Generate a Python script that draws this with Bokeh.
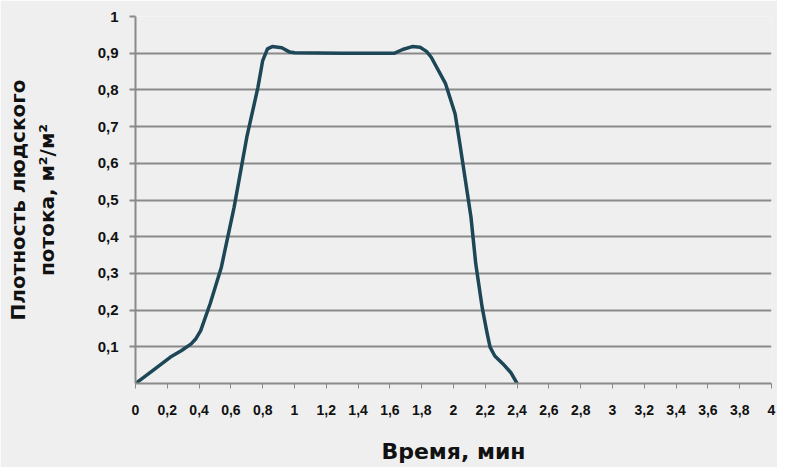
from bokeh.plotting import figure
from bokeh.models import FixedTicker, Range1d
from bokeh.embed import file_html
from bokeh.resources import INLINE

# data
time_min = [0.0, 0.11, 0.22, 0.29, 0.35, 0.38, 0.41, 0.47, 0.54, 0.62, 0.70, 0.77, 0.80, 0.83,
            0.86, 0.92, 0.97, 1.0, 1.3, 1.63, 1.68, 1.74, 1.79, 1.83, 1.86, 1.95, 2.01,
            2.04, 2.075, 2.11, 2.14, 2.18, 2.21, 2.23, 2.26, 2.31, 2.36, 2.4]
density = [0.0, 0.036, 0.072, 0.09, 0.108, 0.122, 0.144, 0.218, 0.317, 0.48, 0.671, 0.807,
           0.88, 0.912, 0.918, 0.915, 0.903, 0.901, 0.9, 0.9, 0.91, 0.918, 0.916, 0.905,
           0.889, 0.817, 0.735, 0.653, 0.553, 0.453, 0.326, 0.208, 0.14, 0.099, 0.075,
           0.054, 0.03, 0.0]

x_ticks = [round(i * 0.2, 1) for i in range(21)]
y_ticks = [round(i * 0.1, 1) for i in range(1, 11)]

def fmt(v):
    return ("%g" % v).replace(".", ",")

p = figure(width=777, height=467, output_backend="svg", toolbar_location=None,
           x_range=Range1d(0, 4), y_range=Range1d(0, 1),
           min_border_left=135, min_border_right=6, min_border_top=16, min_border_bottom=84)
p.background_fill_color = "#efefef"
p.border_fill_color = "#efefef"
p.outline_line_color = None

p.line(time_min, density, line_color="#1d4656", line_width=3.5,
       line_join="round", line_cap="round")

# x axis
xa = p.xaxis[0]
xa.ticker = FixedTicker(ticks=x_ticks)
xa.major_label_overrides = {t: fmt(t) for t in x_ticks}
xa.minor_tick_line_color = None
xa.major_tick_in = 0
xa.major_tick_out = 5
xa.major_tick_line_color = "#8a8a8a"
xa.axis_line_color = "#8a8a8a"
xa.axis_line_width = 2
xa.major_label_standoff = 16
xa.major_label_text_font = "Liberation Sans"
xa.major_label_text_font_style = "bold"
xa.major_label_text_font_size = "14px"
xa.major_label_text_color = "#111111"
xa.axis_label = "Время, мин"
xa.axis_label_text_font = "DejaVu Sans"
xa.axis_label_text_font_style = "bold"
xa.axis_label_text_font_size = "22px"
xa.axis_label_text_color = "#111111"
xa.axis_label_standoff = 21

# y axis
ya = p.yaxis[0]
ya.ticker = FixedTicker(ticks=y_ticks)
ya.major_label_overrides = {t: fmt(t) for t in y_ticks}
ya.minor_tick_line_color = None
ya.major_tick_in = 0
ya.major_tick_out = 6
ya.major_tick_line_color = "#8a8a8a"
ya.major_tick_line_width = 2
ya.axis_line_color = "#8a8a8a"
ya.axis_line_width = 2
ya.major_label_standoff = 11
ya.major_label_text_font = "Liberation Sans"
ya.major_label_text_font_style = "bold"
ya.major_label_text_font_size = "15px"
ya.major_label_text_color = "#111111"
ya.axis_label = "Плотность людского\nпотока, м²/м²"
ya.axis_label_text_font = "DejaVu Sans"
ya.axis_label_text_font_style = "bold"
ya.axis_label_text_font_size = "20px"
ya.axis_label_text_color = "#111111"
ya.axis_label_standoff = 36

p.xgrid.grid_line_color = None
p.ygrid.ticker = FixedTicker(ticks=y_ticks)
p.ygrid.grid_line_color = "#8a8a8a"
p.ygrid.grid_line_width = 2

open("out.html", "w").write(file_html(p, INLINE))
